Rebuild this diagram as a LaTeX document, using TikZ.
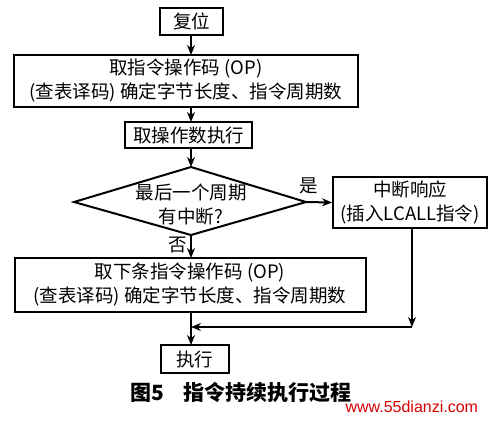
\documentclass[tikz,border=0pt]{standalone}
\usepackage{fontspec}
\newfontfamily\cjk{Noto Sans CJK SC}
\setmainfont{Liberation Serif}
\usetikzlibrary{arrows.meta}
\begin{document}
\begin{tikzpicture}[x=1pt,y=-1pt,
  every node/.style={font=\cjk\fontsize{18.5}{24}\selectfont},
  box/.style={draw,line width=2pt,inner sep=0pt},
  arr/.style={line width=2pt,-{Stealth[length=10pt,width=8pt]}},
  ln/.style={line width=2pt}]
\useasboundingbox (0,0) rectangle (498,421);
\node[box,minimum width=63pt,minimum height=27pt] (reset) at (191.5,21.5) {复位};
\node[box,minimum width=344pt,minimum height=52pt,align=center] (fetch) at (186,81) {取指令操作码 (OP)\\(查表译码) 确定字节长度、指令周期数};
\node[box,minimum width=127pt,minimum height=26pt] (exec1) at (188.5,135) {取操作数执行};
\coordinate (dt) at (191,167);
\coordinate (dl) at (74,202);
\coordinate (dr) at (306,202);
\coordinate (db) at (191,235);
\draw[ln] (dt) -- (dr) -- (db) -- (dl) -- cycle;
\node[align=center] (cond) at (191,205) {最后一个周期\\有中断?};
\node[box,minimum width=154pt,minimum height=51pt,align=center] (irq) at (410,202.5) {中断响应\\(插入LCALL指令)};
\node[box,minimum width=351pt,minimum height=54pt,align=center] (next) at (190,284.5) {取下条指令操作码 (OP)\\(查表译码) 确定字节长度、指令周期数};
\node[box,minimum width=68pt,minimum height=28pt] (exec2) at (194.5,359) {执行};
\node (yes) at (309,186) {是};
\node (no) at (178,245) {否};
\coordinate (corner) at (412,327);
\coordinate (join) at (191,327);
\draw[arr] (reset.south -| 191,0) -- (191,55);
\draw[arr] (191,107) -- (191,122);
\draw[arr] (191,148) -- (dt);
\draw[arr] (dr) -- (irq.west);
\draw[arr] (db) -- (191,258);
\draw[arr] (191,311) -- (191,345);
\draw[arr] (412,228) -- (corner);
\draw[arr] (corner) -- (join);
\node[font=\cjk\bfseries\fontsize{21}{24}\selectfont,anchor=west] (cap) at (127,392) {图5\hspace{0.9em}指令持续执行过程};
\node[font=\fontspec{Liberation Sans}\fontsize{16}{18}\selectfont,text=red!85!black,anchor=west] (wm) at (342,407) {www.55dianzi.com};
\end{tikzpicture}
\end{document}
